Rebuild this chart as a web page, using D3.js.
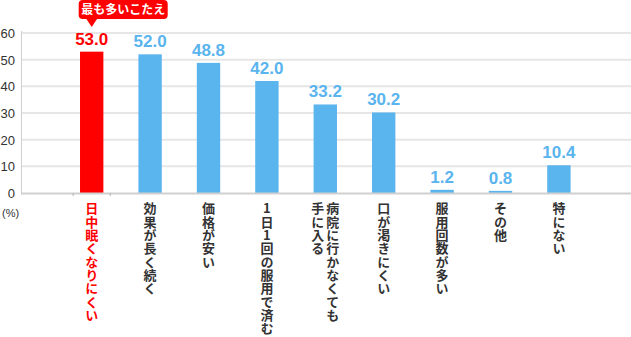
<!DOCTYPE html>
<html><head><meta charset="utf-8">
<script src="https://cdn.jsdelivr.net/npm/d3@7"></script>
<style>
html,body{margin:0;padding:0;background:#fff;}
svg{display:block;}
.vlabel{writing-mode:vertical-rl;text-orientation:upright;}
</style></head>
<body>
<script>
const categories = [
  ["日中眠くなりにくい"],
  ["効果が長く続く"],
  ["価格が安い"],
  ["1日1回の服用で済む"],
  ["病院に行かなくても","手に入る"],
  ["口が渇きにくい"],
  ["服用回数が多い"],
  ["その他"],
  ["特にない"]
];
const values = [53.0, 52.0, 48.8, 42.0, 33.2, 30.2, 1.2, 0.8, 10.4];
const yTicks = [0, 10, 20, 30, 40, 50, 60];
const highlightIndex = 0;
const calloutText = "最も多いこたえ";
const unitLabel = "(%)";

const W = 631, H = 337;
const RED = "#ff0000", BLUE = "#5ab4ee";
const svg = d3.select("body").append("svg").attr("width", W).attr("height", H);

const x = d3.scaleBand().domain(d3.range(values.length))
  .range([62.5, 588.1]).paddingInner(0.6).paddingOuter(0.3);
const y = d3.scaleLinear().domain([0, 60]).range([193, 33]);
const axisX = 21;

// grid lines
svg.append("g").selectAll("line").data(yTicks.filter(d => d > 0)).join("line")
  .attr("x1", axisX).attr("x2", W).attr("y1", d => y(d)).attr("y2", d => y(d))
  .attr("stroke", "#e6e6e6").attr("stroke-width", 2);

// y axis line
svg.append("line").attr("x1", axisX + 0.5).attr("x2", axisX + 0.5)
  .attr("y1", y(60) - 2).attr("y2", y(0) + 1).attr("stroke", "#cfcfcf").attr("stroke-width", 1);

// y tick labels
svg.append("g").selectAll("text").data(yTicks).join("text")
  .attr("x", 15).attr("y", d => y(d) + 5)
  .attr("text-anchor", "end")
  .attr("font-family", "'Liberation Sans', Arial, sans-serif")
  .attr("font-size", 13).attr("fill", "#333")
  .text(d => d);

svg.append("text").attr("x", 2).attr("y", 217)
  .attr("font-family", "'Liberation Sans', Arial, sans-serif")
  .attr("font-size", 11).attr("fill", "#333").text(unitLabel);

// bars
svg.append("g").selectAll("rect").data(values).join("rect")
  .attr("x", (d, i) => x(i)).attr("width", x.bandwidth())
  .attr("y", d => y(d)).attr("height", d => y(0) - y(d))
  .attr("fill", (d, i) => i === highlightIndex ? RED : BLUE);

// baseline
svg.append("line").attr("x1", axisX).attr("x2", W).attr("y1", y(0) + 0.5).attr("y2", y(0) + 0.5)
  .attr("stroke", "#d0d0d0").attr("stroke-width", 2);
const hx = x(highlightIndex) + x.bandwidth() / 2;
svg.append("g").selectAll("line").data([-18.5, 18.5]).join("line")
  .attr("x1", d => hx + d).attr("x2", d => hx + d)
  .attr("y1", y(0)).attr("y2", y(0) + 3).attr("stroke", "#b0b0b0");

// value labels
svg.append("g").selectAll("text").data(values).join("text")
  .attr("x", (d, i) => x(i) + x.bandwidth() / 2).attr("y", d => y(d) - 7)
  .attr("text-anchor", "middle")
  .attr("font-family", "'Liberation Sans', Arial, sans-serif")
  .attr("font-weight", "bold").attr("font-size", 17)
  .attr("fill", (d, i) => i === highlightIndex ? RED : BLUE)
  .text(d => d.toFixed(1));

// callout
const cg = svg.append("g");
cg.append("rect").attr("x", hx - 13).attr("y", 0).attr("width", 89).attr("height", 19)
  .attr("rx", 4).attr("fill", RED);
cg.append("path").attr("d", `M${hx - 6},18 L${hx + 6},18 L${hx},27 Z`).attr("fill", RED);
cg.append("text").attr("x", hx + 31.5).attr("y", 14).attr("text-anchor", "middle")
  .attr("font-family", "'Noto Sans CJK JP', sans-serif").attr("font-weight", "bold")
  .attr("font-size", 12).attr("fill", "#fff").text(calloutText);

// category labels (vertical writing)
const colGap = 15;
const lg = svg.append("g")
  .attr("font-family", "'Noto Sans CJK JP', sans-serif").attr("font-weight", "bold")
  .attr("font-size", 13);
categories.forEach((lines, i) => {
  const cx = x(i) + x.bandwidth() / 2;
  const n = lines.length;
  lines.forEach((line, j) => {
    const colX = cx + ((n - 1) / 2 - j) * colGap;
    lg.append("text").attr("class", "vlabel")
      .attr("x", colX).attr("y", 202)
      .attr("letter-spacing", 0.3)
      .attr("fill", i === highlightIndex ? RED : "#333")
      .text(line);
  });
});
</script>
</body></html>
